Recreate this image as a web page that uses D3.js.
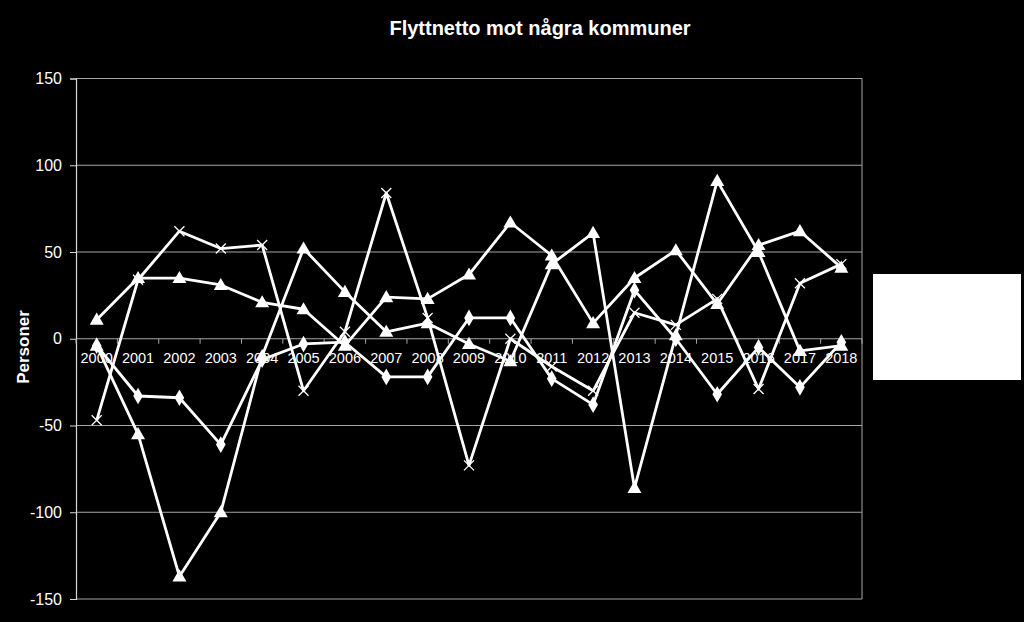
<!DOCTYPE html>
<html>
<head>
<meta charset="utf-8">
<script src="https://cdn.jsdelivr.net/npm/d3@7"></script>
<style>
    html, body { margin: 0; padding: 0; background: #000; }
    svg { display: block; font-family: "Liberation Sans", Arial, sans-serif; }
</style>
</head>
<body>
<svg id="chart" width="1024" height="622"></svg>
<script>
const years = ["2000", "2001", "2002", "2003", "2004", "2005", "2006", "2007", "2008", "2009",
    "2010", "2011", "2012", "2013", "2014", "2015", "2016", "2017", "2018"];

const diamondSeries = [-4, -33, -34, -61, -12, -3, -2, -22, -22, 12, 12, -23, -38, 28, 0, -32, -5, -28, -2];
const triangleSeriesA = [11, 35, 35, 31, 21, 17, -4, 24, 23, 37, 67, 48, 9, 35, 51, 20, 54, 62, 41];
const triangleSeriesB = [-4, -55, -137, -100, -10, 52, 27, 4, 9, -3, -13, 43, 61, -86, 2, 91, 50, -7, -4];
const crossSeries = [-47, 34, 62, 52, 54, -30, 4, 84, 12, -73, 0, -16, -30, 15, 8, 23, -29, 32, 43];

const yTicks = [150, 100, 50, 0, -50, -100, -150];

const chartTitle = "Flyttnetto mot några kommuner";
const yTitle = "Personer";

const plot = { left: 76, right: 862, top: 78.5, bottom: 599 };

const svg = d3.select("#chart");

const x = d3.scaleBand()
    .domain(years)
    .range([plot.left, plot.right])
    .padding(0);

const y = d3.scaleLinear()
    .domain([-150, 150])
    .range([plot.bottom, plot.top]);

const xMid = yr => x(yr) + x.bandwidth() / 2;

// gridlines and plot frame
svg.append("g")
    .selectAll("line")
    .data(yTicks)
    .join("line")
    .attr("x1", plot.left)
    .attr("x2", plot.right)
    .attr("y1", d => y(d))
    .attr("y2", d => y(d))
    .attr("stroke", "#a6a6a6")
    .attr("stroke-width", 1);

svg.append("line")
    .attr("x1", plot.right).attr("x2", plot.right)
    .attr("y1", plot.top).attr("y2", plot.bottom)
    .attr("stroke", "#a6a6a6");

// value axis, plain hyphen for negatives like the original
const yAxis = svg.append("g")
    .attr("transform", `translate(${plot.left},0)`)
    .call(d3.axisLeft(y).tickValues(yTicks).tickFormat(d => String(d)).tickSize(6).tickPadding(8));

yAxis.select(".domain").attr("stroke", "#d9d9d9").attr("stroke-width", 1.2);
yAxis.selectAll(".tick line").attr("stroke", "#d9d9d9");
yAxis.selectAll(".tick text")
    .attr("fill", "#fff")
    .attr("font-size", 16)
    .attr("font-family", "Liberation Sans, Arial, sans-serif");

// category axis sits on the zero line, ticks between categories
const xAxisY = y(0);
svg.append("g")
    .selectAll("line")
    .data(years.concat(["end"]))
    .join("line")
    .attr("x1", (d, i) => plot.left + i * x.bandwidth())
    .attr("x2", (d, i) => plot.left + i * x.bandwidth())
    .attr("y1", xAxisY)
    .attr("y2", xAxisY + 5)
    .attr("stroke", "#a6a6a6");

svg.append("g")
    .selectAll("text")
    .data(years)
    .join("text")
    .attr("x", d => xMid(d))
    .attr("y", xAxisY + 24)
    .attr("text-anchor", "middle")
    .attr("fill", "#fff")
    .attr("font-size", 14.5)
    .text(d => d);

// series
const lineGen = d3.line()
    .x((d, i) => xMid(years[i]))
    .y(d => y(d));

const seriesList = [
    { values: diamondSeries, marker: "diamond" },
    { values: triangleSeriesA, marker: "triangle" },
    { values: triangleSeriesB, marker: "triangle" },
    { values: crossSeries, marker: "cross" }
];

const symbolFor = {
    diamond: d3.symbol().type(d3.symbolDiamond).size(80),
    triangle: d3.symbol().type(d3.symbolTriangle).size(85)
};

for (const s of seriesList) {
    const g = svg.append("g");

    g.append("path")
        .datum(s.values)
        .attr("d", lineGen)
        .attr("fill", "none")
        .attr("stroke", "#fff")
        .attr("stroke-width", 2.8)
        .attr("stroke-linejoin", "round");

    if (s.marker === "cross") {
        g.selectAll("path.mark")
            .data(s.values)
            .join("path")
            .attr("class", "mark")
            .attr("transform", (d, i) => `translate(${xMid(years[i])},${y(d)})`)
            .attr("d", "M-5,-5L5,5M-5,5L5,-5")
            .attr("stroke", "#fff")
            .attr("stroke-width", 1.3)
            .attr("fill", "none");
    } else {
        g.selectAll("path.mark")
            .data(s.values)
            .join("path")
            .attr("class", "mark")
            .attr("transform", (d, i) => `translate(${xMid(years[i])},${y(d) + (s.marker === "triangle" ? 1 : 0)})`)
            .attr("d", symbolFor[s.marker])
            .attr("fill", "#fff");
    }
}

// titles
svg.append("text")
    .attr("x", 540)
    .attr("y", 35)
    .attr("text-anchor", "middle")
    .attr("fill", "#fff")
    .attr("font-size", 20)
    .attr("font-weight", "bold")
    .text(chartTitle);

svg.append("text")
    .attr("transform", "translate(29,347) rotate(-90)")
    .attr("text-anchor", "middle")
    .attr("fill", "#fff")
    .attr("font-size", 17)
    .attr("font-weight", "bold")
    .text(yTitle);

// empty legend box
svg.append("rect")
    .attr("x", 873)
    .attr("y", 274)
    .attr("width", 148)
    .attr("height", 106)
    .attr("fill", "#fff");
</script>
</body>
</html>
